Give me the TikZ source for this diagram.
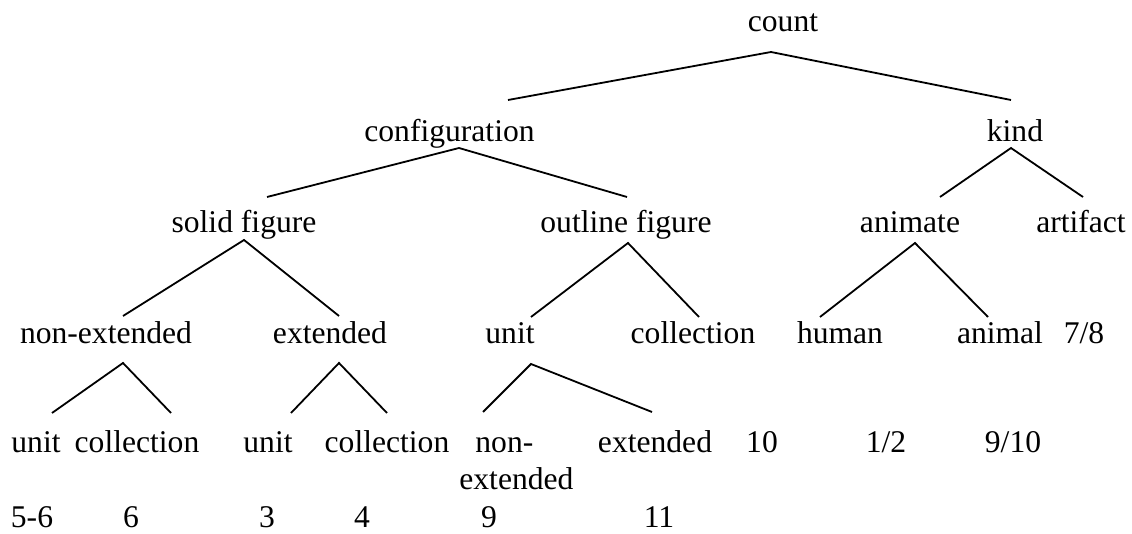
\documentclass[tikz,border=0pt]{standalone}
\usepackage{fontspec}
\setmainfont{Liberation Serif}
\begin{document}
\begin{tikzpicture}[x=0.5pt,y=-0.5pt,
	every node/.style={inner sep=0pt,anchor=base,font=\fontsize{15.8}{18.5}\selectfont},
	branch/.style={line width=0.9pt}]
	\useasboundingbox (0,0) rectangle (1132,534);
	\node (count) at (783,32) {count};
	\node (config) at (449.5,142) {configuration};
	\node (kind) at (1015,142) {kind};
	\node (solid) at (244,233) {solid figure};
	\node (outline) at (626,233) {outline figure};
	\node (animate) at (910,233) {animate};
	\node (artifact) at (1081,233) {artifact};
	\node (snonext) at (106,344) {non-extended};
	\node (sext) at (330,344) {extended};
	\node (ounit) at (510,344) {unit};
	\node (ocoll) at (693,344) {collection};
	\node (human) at (840,344) {human};
	\node (animal) at (1000,344) {animal};
	\node (n78) at (1084,344) {7/8};
	\node (nunit) at (36,453) {unit};
	\node (ncoll) at (137,453) {collection};
	\node (eunit) at (268,453) {unit};
	\node (ecoll) at (387,453) {collection};
	\node[anchor=base west,align=left] (unonext) at (459,490) {\hspace*{8pt}non-\\extended};
	\node (uext) at (655,453) {extended};
	\node (n10) at (762,453) {10};
	\node (n12) at (886,453) {1/2};
	\node (n910) at (1013,453) {9/10};
	\node (n56) at (32,528) {5-6};
	\node (n6) at (131,528) {6};
	\node (n3) at (267,528) {3};
	\node (n4) at (362,528) {4};
	\node (n9) at (489,528) {9};
	\node (n11) at (659,528) {11};
	\coordinate (count-b) at (771,52);
	\coordinate (config-t) at (508,100);
	\coordinate (kind-t) at (1011,100);
	\coordinate (config-b) at (459,148);
	\coordinate (solid-t) at (267,197);
	\coordinate (outline-t) at (627,197);
	\coordinate (kind-b) at (1011,148);
	\coordinate (animate-t) at (940,197);
	\coordinate (artifact-t) at (1083,197);
	\coordinate (solid-b) at (244,240);
	\coordinate (snonext-t) at (123,316);
	\coordinate (sext-t) at (339,316);
	\coordinate (outline-b) at (628,243);
	\coordinate (ounit-t) at (531,317);
	\coordinate (ocoll-t) at (699,317);
	\coordinate (animate-b) at (915,243);
	\coordinate (human-t) at (820,317);
	\coordinate (animal-t) at (988,317);
	\coordinate (snonext-b) at (123,363);
	\coordinate (nunit-t) at (52,413);
	\coordinate (ncoll-t) at (171,413);
	\coordinate (sext-b) at (339,363);
	\coordinate (eunit-t) at (291,413);
	\coordinate (ecoll-t) at (387,413);
	\coordinate (ounit-b) at (531,364);
	\coordinate (unonext-t) at (483,412);
	\coordinate (uext-t) at (652,412);
	\foreach \p/\l/\r in {count/config/kind, config/solid/outline, kind/animate/artifact,
		solid/snonext/sext, outline/ounit/ocoll, animate/human/animal,
		snonext/nunit/ncoll, sext/eunit/ecoll, ounit/unonext/uext}
		\draw[branch] (\l-t) -- (\p-b) -- (\r-t);
\end{tikzpicture}
\end{document}
